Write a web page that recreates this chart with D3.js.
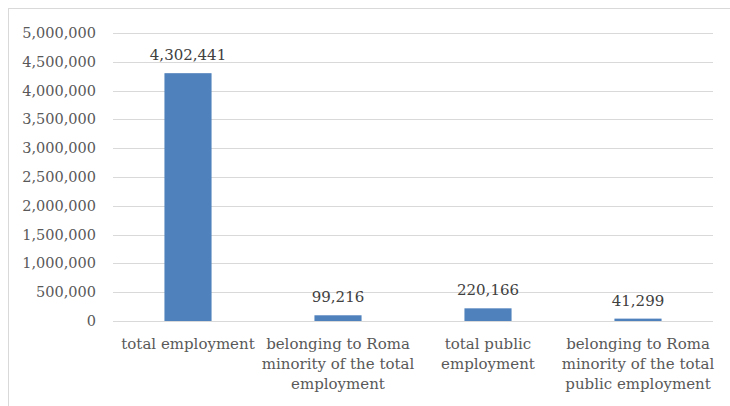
<!DOCTYPE html>
<html>
<head>
<meta charset="utf-8">
<script src="https://cdn.jsdelivr.net/npm/d3@7"></script>
<style>
  html, body { margin: 0; padding: 0; background: #fff; }
  svg { display: block; font-family: "DejaVu Serif", "Liberation Serif", serif; }
</style>
</head>
<body>
<div id="chart"></div>
<script>
const categories = [
    ['total employment'],
    ['belonging to Roma', 'minority of the total', 'employment'],
    ['total public', 'employment'],
    ['belonging to Roma', 'minority of the total', 'public employment']
];
const values = [4302441, 99216, 220166, 41299];
const yTicks = [0, 500000, 1000000, 1500000, 2000000, 2500000, 3000000, 3500000, 4000000, 4500000, 5000000];

const W = 730, H = 406;
const margin = { top: 33, right: 17, bottom: 85, left: 113 };
const width = W - margin.left - margin.right;
const height = H - margin.top - margin.bottom;

const svg = d3.select('#chart')
    .append('svg')
    .attr('width', W)
    .attr('height', H);

// chart frame (right/bottom edges fall outside the picture)
svg.append('rect')
    .attr('x', 8.5)
    .attr('y', 8.5)
    .attr('width', W)
    .attr('height', H)
    .attr('fill', 'none')
    .attr('stroke', '#d9d9d9');

const g = svg.append('g')
    .attr('transform', `translate(${margin.left},${margin.top})`);

const x = d3.scaleBand()
    .domain(d3.range(values.length))
    .range([0, width])
    .paddingInner(0.686)
    .paddingOuter(0.343);

const y = d3.scaleLinear()
    .domain([0, 5000000])
    .range([height, 0]);

const fmt = d3.format(',');

// gridlines
g.selectAll('.grid')
    .data(yTicks)
    .join('line')
    .attr('x1', 0)
    .attr('x2', width)
    .attr('y1', d => Math.round(y(d)) + 0.5)
    .attr('y2', d => Math.round(y(d)) + 0.5)
    .attr('stroke', '#d9d9d9')
    .attr('stroke-width', 1);

// y labels
g.selectAll('.ylab')
    .data(yTicks)
    .join('text')
    .attr('x', -17)
    .attr('y', d => y(d))
    .attr('dy', '0.35em')
    .attr('text-anchor', 'end')
    .attr('fill', '#595959')
    .style('font-size', '14.5px')
    .text(d => fmt(d));

// bars
g.selectAll('.bar')
    .data(values)
    .join('rect')
    .attr('x', (d, i) => x(i))
    .attr('y', d => y(d))
    .attr('width', x.bandwidth())
    .attr('height', d => height - y(d))
    .attr('fill', '#4f81bd');

// value labels
g.selectAll('.vlab')
    .data(values)
    .join('text')
    .attr('x', (d, i) => x(i) + x.bandwidth() / 2)
    .attr('y', d => y(d) - 13)
    .attr('text-anchor', 'middle')
    .attr('fill', '#404040')
    .style('font-size', '15px')
    .text(d => fmt(d));

// x labels
const xl = g.selectAll('.xlab')
    .data(categories)
    .join('text')
    .attr('x', (d, i) => x(i) + x.bandwidth() / 2)
    .attr('y', height + 28)
    .attr('text-anchor', 'middle')
    .attr('fill', '#595959')
    .style('font-size', '15px');

xl.selectAll('tspan')
    .data(d => d)
    .join('tspan')
    .attr('x', function() { return d3.select(this.parentNode).attr('x'); })
    .attr('dy', (d, i) => i === 0 ? 0 : 20)
    .text(d => d);
</script>
</body>
</html>
